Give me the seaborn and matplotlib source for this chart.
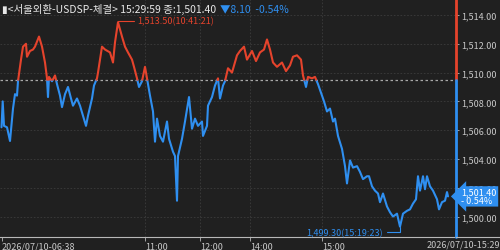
import numpy as np
import pandas as pd
import matplotlib
matplotlib.use("Agg")
import matplotlib.pyplot as plt
import matplotlib.transforms as mtransforms
from matplotlib.lines import Line2D
import seaborn as sns

# =========================================
# data (tick sequence / price)
# =========================================
seq = [1.5, 2.7, 4, 7, 10, 13, 15, 17, 18, 21, 23, 26, 27, 30, 33, 35, 39, 42, 45, 47,
       48, 49, 52, 55, 57, 60, 62, 65, 68, 71, 73, 77, 80, 83, 86, 88, 92, 94, 97, 98,
       102, 105, 110, 113, 115, 118, 122, 125, 128, 132, 134, 137, 139, 142, 145, 147, 150, 153, 155, 157,
       160, 163, 167, 169, 173, 175, 177, 178, 182, 185, 189, 192, 195, 198, 202, 203, 207, 208, 212, 215,
       218, 220, 223, 225, 228, 232, 237, 240, 244, 247, 252, 256, 260, 264, 267, 270, 273, 277, 282, 286,
       290, 293, 297, 301, 303, 306, 308, 312, 315, 318, 322, 324, 327, 330, 333, 335, 338, 342, 345, 347,
       350, 353, 357, 360, 363, 367, 369, 372, 375, 378, 380, 383, 387, 390, 393, 397, 400, 403, 407, 410,
       413, 416, 418, 420, 423, 425, 427, 430, 433, 437, 439, 442, 445, 447, 448]
price = [1506.2, 1508.0, 1506.3, 1506.2, 1505.25, 1507.5, 1508.5, 1508.4, 1509.4, 1510.9,
         1511.8, 1512.0, 1511.1, 1511.5, 1511.6, 1511.8, 1512.5, 1511.8, 1510.7, 1509.6,
         1508.3, 1509.7, 1509.4, 1509.8, 1509.2, 1508.4, 1507.6, 1508.5, 1509.0, 1508.2,
         1507.7, 1508.2, 1507.7, 1507.0, 1506.3, 1507.0, 1508.2, 1509.1, 1509.6, 1510.0,
         1511.8, 1511.6, 1511.4, 1510.7, 1512.1, 1513.5, 1512.5, 1511.8, 1511.4, 1510.9,
         1510.4, 1509.6, 1509.0, 1509.4, 1510.4, 1509.6, 1508.4, 1507.3, 1505.2, 1506.8,
         1505.6, 1505.2, 1506.6, 1505.4, 1504.5, 1504.2, 1501.1, 1504.2, 1505.4, 1506.6,
         1508.3, 1506.1, 1506.8, 1506.3, 1506.6, 1505.6, 1506.3, 1507.7, 1508.3, 1509.1,
         1509.6, 1508.2, 1509.1, 1509.4, 1510.3, 1510.0, 1511.2, 1511.5, 1511.8, 1510.9,
         1511.5, 1510.8, 1511.4, 1511.6, 1512.3, 1511.6, 1510.7, 1510.4, 1510.7, 1510.1,
         1510.5, 1511.1, 1511.2, 1510.9, 1509.8, 1509.0, 1509.7, 1509.6, 1509.7, 1509.2,
         1508.4, 1508.0, 1507.3, 1507.5, 1506.6, 1506.8, 1505.6, 1504.7, 1503.5, 1502.3,
         1503.9, 1503.4, 1503.5, 1503.1, 1502.6, 1502.8, 1502.8, 1502.1, 1501.8, 1501.6,
         1501.0, 1501.6, 1500.7, 1500.3, 1500.0, 1500.2, 1499.3, 1500.2, 1500.4, 1500.5,
         1500.9, 1501.2, 1502.8, 1501.8, 1502.8, 1501.9, 1502.8, 1502.1, 1501.8, 1501.2,
         1500.5, 1501.0, 1501.1, 1501.7, 1501.4]

prev_close = 1509.50
last_price = 1501.40
change = -8.10
change_pct = -0.54

tick_pos = [2, 145, 200, 250, 322]
tick_labels = ["2026/07/10-06:38", "11:00", "12:00", "14:00", "15:00"]
end_label = "2026/07/10-15:29"
grid_x = [145, 200, 250, 322]
y_ticks = [1500, 1502, 1504, 1506, 1508, 1510, 1512, 1514]

title = "<서울외환-USDSP-체결> 15:29:59 종:1,501.40"
high_time = "10:41:21"
low_time = "15:19:23"

BG = "#202020"
RED = "#e5432c"
BLUE = "#2f8ff0"

# =========================================
# split the line at the previous close
# =========================================
rows = []
seg = 0
cur = price[0] >= prev_close
for i in range(len(price)):
    if i > 0:
        s = price[i] >= prev_close
        if s != cur:
            t = (prev_close - price[i - 1]) / (price[i] - price[i - 1])
            xc = seq[i - 1] + t * (seq[i] - seq[i - 1])
            rows.append((xc, prev_close, seg, "up" if cur else "down"))
            seg += 1
            cur = s
            rows.append((xc, prev_close, seg, "up" if cur else "down"))
    rows.append((seq[i], price[i], seg, "up" if cur else "down"))
df = pd.DataFrame(rows, columns=["seq", "price", "seg", "side"])

# =========================================
# plot
# =========================================
sns.set_theme(style="dark", rc={"axes.facecolor": BG, "figure.facecolor": BG})
plt.rcParams["font.family"] = ["Noto Sans CJK KR", "DejaVu Sans"]

fig = plt.figure(figsize=(5.0, 2.51), dpi=100)
ax = fig.add_axes([0, 13 / 251, 456 / 500, 238 / 251])
ax.set_facecolor(BG)

ylo, yhi = 1498.58, 1515.11
ax.set_xlim(0, 456)
ax.set_ylim(ylo, yhi)

for y in y_ticks:
    ax.axhline(y, color="#3c3c3c", lw=0.6, ls=(0, (2, 2)), zorder=0)
for x in grid_x:
    ax.axvline(x, color="#3c3c3c", lw=0.6, ls=(0, (2, 2)), zorder=0)
ax.axhline(prev_close, color="#a8a8a8", lw=0.9, ls=(0, (2, 2)), zorder=1)

sns.lineplot(data=df, x="seq", y="price", hue="side", units="seg", estimator=None,
             palette={"up": RED, "down": BLUE}, legend=False, sort=False,
             lw=1.5, ax=ax, zorder=3)

# right axis coloured at previous close
frac = (prev_close - ylo) / (yhi - ylo)
ax.axvline(456, ymin=frac, ymax=1, color=RED, lw=2, clip_on=False, zorder=4)
ax.axvline(456, ymin=0, ymax=frac, color=BLUE, lw=2, clip_on=False, zorder=4)

for sp in ["top", "left", "right"]:
    ax.spines[sp].set_visible(False)
ax.spines["bottom"].set_color("#b8b8b8")
ax.spines["bottom"].set_linewidth(0.8)
fig.add_artist(Line2D([456 / 500, 1], [13 / 251, 13 / 251], color="#b8b8b8", lw=0.8))

ax.yaxis.tick_right()
ax.set_yticks(y_ticks)
ax.set_yticklabels([f"{v:,.2f}" for v in y_ticks])
ax.tick_params(axis="y", right=True, length=2, width=0.6, color="#b8b8b8",
               labelsize=6.5, labelcolor="#c8c8c8", pad=1.5)

ax.set_xticks(tick_pos)
ax.set_xticklabels(tick_labels, ha="left")
ax.tick_params(axis="x", bottom=True, length=3, width=0.6, color="#b8b8b8",
               labelsize=6.5, labelcolor="#c8c8c8", pad=0.5)
fig.text(1.0, 1 / 251, end_label, ha="right", va="bottom", fontsize=6.5, color="#c8c8c8")
ax.set_xlabel("")
ax.set_ylabel("")

# high / low marks
i_hi = int(np.argmax(price))
i_lo = int(np.argmin(price))
ax.annotate(f"{price[i_hi]:,.2f}({high_time})", xy=(seq[i_hi], price[i_hi]),
            xytext=(14, 1), textcoords="offset points", ha="left", va="center",
            fontsize=6.5, color=RED,
            arrowprops=dict(arrowstyle="-", color=RED, lw=0.8, shrinkA=0, shrinkB=0,
                            connectionstyle="angle,angleA=0,angleB=90,rad=0"))
ax.annotate(f"{price[i_lo]:,.2f}({low_time})", xy=(seq[i_lo], price[i_lo]),
            xytext=(-12, -4), textcoords="offset points", ha="right", va="center",
            fontsize=6.5, color=BLUE,
            arrowprops=dict(arrowstyle="-", color=BLUE, lw=0.8, shrinkA=0, shrinkB=0,
                            connectionstyle="angle,angleA=0,angleB=90,rad=0"))

# last price tag (covers most of the 1,502.00 label, as in the original)
trans = mtransforms.blended_transform_factory(ax.transAxes, ax.transData)
ax.text(1.012, last_price, f"{last_price:,.2f}\n- {abs(change_pct):.2f}%", transform=trans,
        ha="left", va="center", fontsize=6.5, color="white", linespacing=0.95,
        bbox=dict(boxstyle="larrow,pad=0.15", fc=BLUE, ec="none"), clip_on=False, zorder=5)

# header: white part, then the change in blue right after it
head = fig.text(2 / 500, 1 - 9 / 251, "▮" + title, ha="left", va="center",
                fontsize=7.5, color="#e8e8e8")
fig.canvas.draw()
bb = head.get_window_extent(renderer=fig.canvas.get_renderer())
x_next = (bb.x1 + 4) / fig.bbox.width
fig.text(x_next, 1 - 9 / 251, f"▼{abs(change):.2f}  -{abs(change_pct):.2f}%",
         ha="left", va="center", fontsize=7.5, color=BLUE)

fig.savefig("out.png", dpi=100, facecolor=BG)
